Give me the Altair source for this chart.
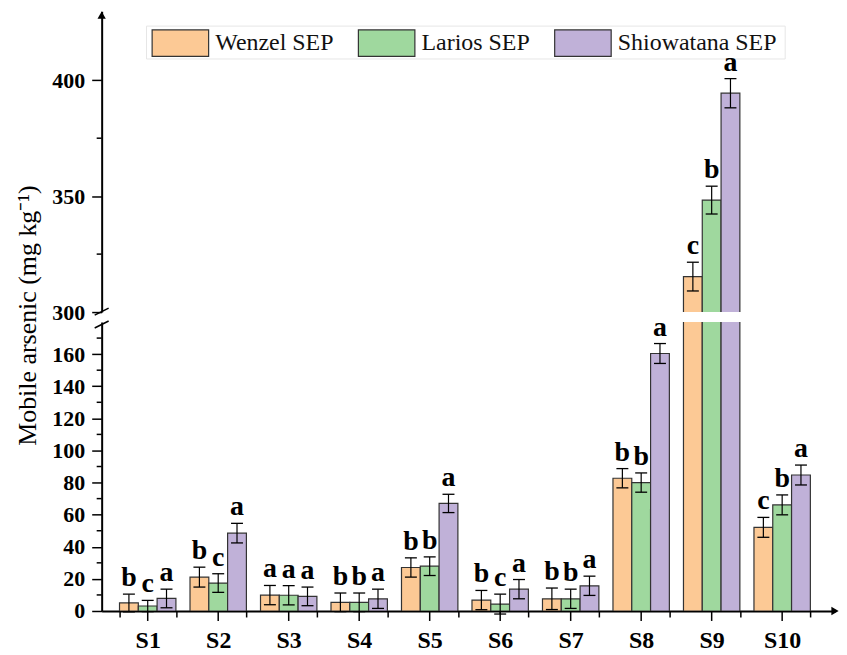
import altair as alt
import pandas as pd

samples = ["S1", "S2", "S3", "S4", "S5", "S6", "S7", "S8", "S9", "S10"]
methods = ["Wenzel SEP", "Larios SEP", "Shiowatana SEP"]
colors = ["#FCC995", "#9FD89E", "#C0B1D8"]

wenzel = [5.0, 21.1, 9.9, 5.4, 27.1, 6.8, 7.6, 82.7, 315.3, 52.1]
larios = [3.1, 17.4, 9.8, 5.4, 27.9, 4.3, 7.6, 80.0, 348.3, 66.1]
shiow = [7.8, 48.5, 9.1, 7.6, 67.0, 13.6, 15.7, 160.4, 394.4, 84.7]

wenzel_err = [5.5, 6.2, 6.0, 5.8, 6.0, 6.0, 6.7, 6.0, 6.2, 6.2]
larios_err = [3.5, 5.8, 6.0, 5.8, 5.8, 6.2, 6.0, 6.0, 6.0, 6.2]
shiow_err = [5.8, 6.1, 5.8, 6.0, 5.7, 6.0, 6.0, 6.2, 6.3, 6.2]

wenzel_let = ["b", "b", "a", "b", "b", "b", "b", "b", "c", "c"]
larios_let = ["c", "c", "a", "b", "b", "c", "b", "b", "b", "b"]
shiow_let = ["a", "a", "a", "a", "a", "a", "a", "a", "a", "a"]

lower_major = [0, 20, 40, 60, 80, 100, 120, 140, 160]
lower_minor = [10, 30, 50, 70, 90, 110, 130, 150, 170]
upper_major = [300, 350, 400]
upper_minor = [325, 375]

rows = []
for m, vals, errs, lets in [
    (methods[0], wenzel, wenzel_err, wenzel_let),
    (methods[1], larios, larios_err, larios_let),
    (methods[2], shiow, shiow_err, shiow_let),
]:
    for s, v, e, l in zip(samples, vals, errs, lets):
        rows.append({"sample": s, "method": m, "value": v, "lo": v - e, "hi": v + e, "letter": l})
df = pd.DataFrame(rows)
one = pd.DataFrame({"k": [0]})

FONT = "Liberation Serif"
W = 736
H_UP = 302
H_LOW = 290
LOW_MAX = 180
UP_DOM = [300, 429.8]

xscale = alt.Scale(domain=samples, paddingInner=0.2, paddingOuter=0.3015, align=0.42)
x_enc = alt.X("sample:N", scale=xscale, sort=samples)
xoff = alt.XOffset("method:N", sort=methods, scale=alt.Scale(domain=methods))
color = alt.Color(
    "method:N",
    scale=alt.Scale(domain=methods, range=colors),
    legend=alt.Legend(
        title=None,
        orient="none",
        legendX=50,
        legendY=3,
        direction="horizontal",
        symbolType="M-1,-0.47L1,-0.47L1,0.47L-1,0.47Z",
        symbolSize=3215,
        symbolStrokeColor="#333333",
        symbolStrokeWidth=1.2,
        symbolOpacity=1,
        labelFont=FONT,
        labelFontSize=24,
        labelColor="#111111",
        labelOffset=6,
        columnPadding=22,
        padding=0,
    ),
)


def yaxis(values, **extra):
    return alt.Axis(
        values=values,
        labelOverlap=False,
        tickSize=10,
        tickWidth=1.5,
        tickColor="black",
        domainColor="black",
        domainWidth=2,
        labelFont=FONT,
        labelFontWeight="bold",
        labelFontSize=22,
        labelColor="black",
        labelPadding=7,
        grid=False,
        **extra,
    )


lower_axis = yaxis(lower_major, title="Mobile arsenic (mg kg⁻¹)", titleFont=FONT, titleFontSize=26,
                   titleFontWeight="normal", titleColor="black", titleAngle=270,
                   titleX=-74, titleY=-7, titleAlign="center", titleBaseline="middle")
upper_axis = yaxis(upper_major, title=None)


def minor_ticks(vals, scale, axis):
    return alt.Chart(pd.DataFrame({"v": vals})).mark_rule(color="black", strokeWidth=1.5).encode(
        x=alt.value(-5), x2=alt.value(0), y=alt.Y("v:Q", scale=scale, axis=axis)
    )


# ---------------- lower panel ----------------
ylow = alt.Scale(domain=[0, LOW_MAX], nice=False)
low_df = df[df["hi"] < LOW_MAX]


def ylo(field):
    return alt.Y(field, scale=ylow, axis=lower_axis)


low_bars = alt.Chart(df).mark_bar(stroke="#333333", strokeWidth=1.2, clip=True, opacity=1).encode(
    x=alt.X("sample:N", scale=xscale, sort=samples, title=None,
            axis=alt.Axis(tickBand="extent", tickSize=6, tickWidth=1.5, tickColor="black",
                          domainColor="black", domainWidth=2, labelAngle=0,
                          labelFont=FONT, labelFontWeight="bold", labelFontSize=24,
                          labelColor="black", labelPadding=12)),
    xOffset=xoff,
    y=ylo("value:Q"),
    color=color,
)
low_err = alt.Chart(low_df).mark_rule(color="black", strokeWidth=1.2).encode(
    x=x_enc, xOffset=xoff, y=ylo("lo:Q"), y2="hi:Q"
)
low_cap_hi = alt.Chart(low_df).mark_tick(color="black", size=12, thickness=1.3, opacity=1).encode(
    x=x_enc, xOffset=xoff, y=ylo("hi:Q")
)
low_cap_lo = alt.Chart(low_df).mark_tick(color="black", size=12, thickness=1.3, opacity=1).encode(
    x=x_enc, xOffset=xoff, y=ylo("lo:Q")
)
low_text = alt.Chart(low_df).mark_text(font=FONT, fontWeight="bold", fontSize=28, dy=-8,
                                       baseline="alphabetic", color="black").encode(
    x=x_enc, xOffset=xoff, y=ylo("hi:Q"), text="letter:N"
)
center_ticks = alt.Chart(pd.DataFrame({"sample": samples})).mark_rule(color="black", strokeWidth=1.5).encode(
    x=x_enc, y=alt.value(H_LOW), y2=alt.value(H_LOW + 10)
)
x_arrow = alt.Chart(one).mark_point(shape="triangle-right", filled=True, color="black", size=70, opacity=1).encode(
    x=alt.value(W), y=alt.value(H_LOW)
)
low_break = alt.Chart(one).mark_rule(color="black", strokeWidth=1.5).encode(
    x=alt.value(-7), x2=alt.value(7), y=alt.value(6), y2=alt.value(-1)
)
lower = alt.layer(low_bars, low_err, low_cap_hi, low_cap_lo, low_text, center_ticks,
                  minor_ticks(lower_minor, ylow, lower_axis), x_arrow, low_break).properties(
    width=W, height=H_LOW
)

# ---------------- upper panel ----------------
yup = alt.Scale(domain=UP_DOM, nice=False, zero=False)
up_df = df[df["value"] >= 300]


def yhi(field):
    return alt.Y(field, scale=yup, axis=upper_axis)


legend_frame = alt.Chart(one).mark_rect(fill="white", stroke="#e6e6e6", strokeWidth=1).encode(
    x=alt.value(45), x2=alt.value(686), y=alt.value(15), y2=alt.value(48)
)
up_bars = alt.Chart(up_df).mark_bar(stroke="#333333", strokeWidth=1.2, clip=True, opacity=1).encode(
    x=alt.X("sample:N", scale=xscale, sort=samples, title=None, axis=None),
    xOffset=xoff,
    y=yhi("value:Q"),
    y2=alt.datum(290),
    color=color,
)
up_err = alt.Chart(up_df).mark_rule(color="black", strokeWidth=1.2).encode(
    x=x_enc, xOffset=xoff, y=yhi("lo:Q"), y2="hi:Q"
)
up_cap_hi = alt.Chart(up_df).mark_tick(color="black", size=12, thickness=1.3, opacity=1).encode(
    x=x_enc, xOffset=xoff, y=yhi("hi:Q")
)
up_cap_lo = alt.Chart(up_df).mark_tick(color="black", size=12, thickness=1.3, opacity=1).encode(
    x=x_enc, xOffset=xoff, y=yhi("lo:Q")
)
up_text = alt.Chart(up_df).mark_text(font=FONT, fontWeight="bold", fontSize=28, dy=-8,
                                     baseline="alphabetic", color="black").encode(
    x=x_enc, xOffset=xoff, y=yhi("hi:Q"), text="letter:N"
)
y_arrow = alt.Chart(one).mark_point(shape="triangle-up", filled=True, color="black", size=70, opacity=1).encode(
    x=alt.value(0), y=alt.value(4)
)
up_break = alt.Chart(one).mark_rule(color="black", strokeWidth=1.5).encode(
    x=alt.value(-7), x2=alt.value(7), y=alt.value(H_UP + 3), y2=alt.value(H_UP - 4)
)
upper = alt.layer(legend_frame, up_bars, up_err, up_cap_hi, up_cap_lo, up_text,
                  minor_ticks(upper_minor, yup, upper_axis), y_arrow, up_break).properties(
    width=W, height=H_UP
)

chart = alt.vconcat(upper, lower, spacing=10, bounds="flush").resolve_scale(
    x="shared"
).properties(
    padding={"left": 6, "top": 2, "right": 0, "bottom": 0}
).configure(background="white").configure_view(stroke="transparent", strokeWidth=0).configure_axis(
    labelOverlap=False
)

chart.save("out.html", embed_options={"renderer": "svg", "actions": False})
